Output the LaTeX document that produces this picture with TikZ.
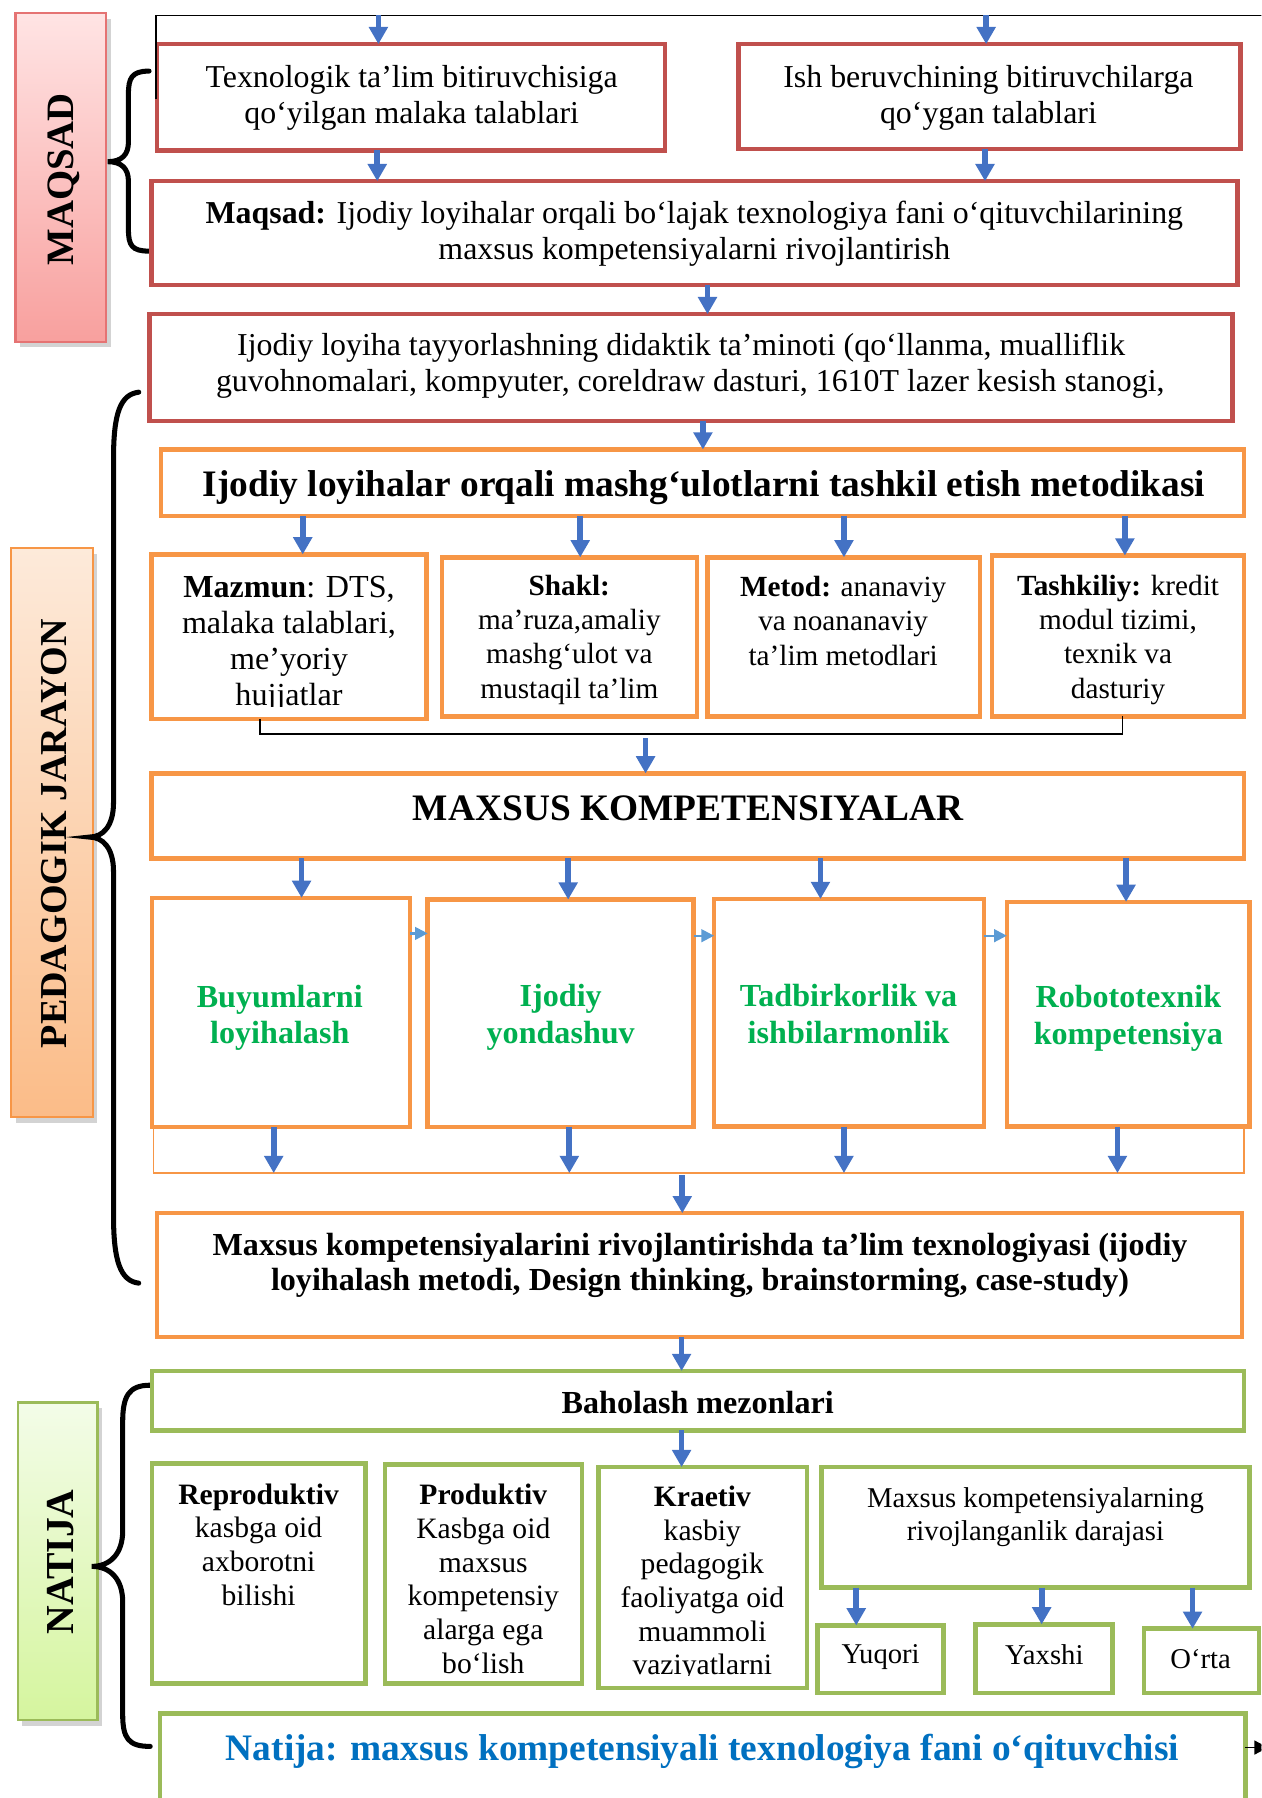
\documentclass[tikz,border=0pt]{standalone}
\usepackage{fontspec}
\setmainfont{Liberation Serif}
\usetikzlibrary{arrows.meta,fit,shadows}
\definecolor{cred}{HTML}{C0504D}
\definecolor{corange}{HTML}{F79646}
\definecolor{cgreen}{HTML}{9BBB59}
\definecolor{cblue}{HTML}{4472C4}
\definecolor{clblue}{HTML}{5B9BD5}
\definecolor{tgreen}{HTML}{00B050}
\definecolor{tblue}{HTML}{0070C0}
\definecolor{pinkA}{HTML}{FFE4E4}
\definecolor{pinkB}{HTML}{F8A09E}
\definecolor{pinkL}{HTML}{E57373}
\definecolor{peachA}{HTML}{FDEADA}
\definecolor{peachB}{HTML}{FBBC88}
\definecolor{limeA}{HTML}{F3FCE8}
\definecolor{limeB}{HTML}{D5F59E}
\begin{document}
\begin{tikzpicture}[x=0.5pt,y=-0.5pt,
  every node/.style={inner sep=0pt,outer sep=0pt},
  redbox/.style={draw=cred,line width=2pt,fill=white},
  orbox/.style={draw=corange,line width=2pt,fill=white},
  grbox/.style={draw=cgreen,line width=2pt,fill=white},
  labelbox/.style={line width=1pt,drop shadow={shadow xshift=2pt,shadow yshift=-2.5pt,opacity=0.35}},
  barrow/.style={draw=cblue,line width=2.5pt,-{Triangle[width=8pt,length=7.5pt]}},
  larrow/.style={draw=clblue,line width=1pt,-{Triangle[width=5.5pt,length=5.5pt]}},
  brace/.style={line width=2.2pt,line cap=round},
  thinline/.style={line width=0.75pt},
  tA/.style={font=\fontsize{13.9}{15.5}\selectfont,align=center},
  tM/.style={font=\fontsize{14}{15.6}\selectfont,align=center},
  tS/.style={font=\fontsize{12.75}{14.9}\selectfont,align=center},
  tR/.style={font=\fontsize{12.9}{14.7}\selectfont,align=center},
  tK/.style={font=\fontsize{12.5}{14.5}\selectfont,align=center},
  tH/.style={font=\bfseries\fontsize{16.3}{18}\selectfont,align=center},
  tG/.style={font=\bfseries\fontsize{14}{16}\selectfont,text=tgreen,align=center},
  tT/.style={font=\bfseries\fontsize{14}{15.6}\selectfont,align=center},
  lbl/.style={font=\bfseries\fontsize{16.9}{18}\selectfont,rotate=90,text depth=0pt}]
\useasboundingbox (0,0) rectangle (1100,1568);
\clip (0,0) rectangle (1100,1568);

% ---------- side labels ----------
\node[labelbox,top color=pinkA,bottom color=pinkB,draw=pinkL,fit={(13.6,11.6) (92.6,298)}] (L1) {};
\node[lbl] (L1t) at (52.6,156.3) {MAQSAD};
\node[labelbox,top color=peachA,bottom color=peachB,draw=corange,fit={(9.7,478) (81,974)}] (L2) {};
\node[lbl,font=\bfseries\fontsize{16.6}{18}\selectfont] (L2t) at (46.8,727) {PEDAGOGIK JARAYON};
\node[labelbox,top color=limeA,bottom color=limeB,draw=cgreen,fit={(15.6,1223) (85,1500)}] (L3) {};
\node[lbl,font=\bfseries\fontsize{17.3}{18}\selectfont] (L3t) at (53,1362) {NATIJA};

% ---------- braces ----------
\draw[brace] (130,62) .. controls (115,62) and (112,68) .. (112,82) -- (112,124)
  .. controls (112,135) and (106,141) .. (94,141) .. controls (106,141) and (112,147) .. (112,158)
  -- (112,200) .. controls (112,214) and (115,219) .. (130,219);
\draw[brace] (121,342) .. controls (105,344) and (99,360) .. (99,400) -- (99,700)
  .. controls (99,720) and (90,730) .. (78,730) .. controls (90,730) and (99,740) .. (99,760)
  -- (99,1060) .. controls (99,1100) and (105,1117) .. (121,1119);
\draw[brace] (131,1208) .. controls (112,1208) and (107,1218) .. (107,1240) -- (107,1335)
  .. controls (107,1355) and (96,1366) .. (80,1366) .. controls (96,1366) and (107,1377) .. (107,1397)
  -- (107,1495) .. controls (107,1516) and (112,1523) .. (131,1523);

% ---------- MAQSAD part ----------
\node[redbox,fit={(137,38.5) (580,131)}] (b1) {};
\node[tA] (t1) at (359,85.5) {Texnologik ta’lim bitiruvchisiga\\qo‘yilgan malaka talablari};
\node[redbox,fit={(644,38.5) (1082,130)}] (b2) {};
\node[tA] (t2) at (862,85.5) {Ish beruvchining bitiruvchilarga\\qo‘ygan talablari};
\node[redbox,fit={(132,158) (1079,248.5)}] (b3) {};
\node[tA] (t3) at (605.5,204) {\textbf{Maqsad:} Ijodiy loyihalar orqali bo‘lajak texnologiya fani o‘qituvchilarining\\maxsus kompetensiyalarni rivojlantirish};
\node[redbox,fit={(130.5,274) (1075,367)}] (b4) {};
\node[tA] (t4) at (602,319) {Ijodiy loyiha tayyorlashning didaktik ta’minoti (qo‘llanma, mualliflik\hspace*{8pt}\\guvohnomalari, kompyuter, coreldraw dasturi, 1610T lazer kesish stanogi,};

\coordinate (tl0) at (136,86);
\coordinate (tl1) at (136,13.5);
\coordinate (tl2) at (1110,13.5);
\draw[thinline] (tl0) -- (tl1) -- (tl2);

% ---------- PEDAGOGIK part ----------
\node[orbox,fit={(140.5,392) (1085,450)}] (b5) {};
\node[tH] (t5) at (614,425) {Ijodiy loyihalar orqali mashg‘ulotlarni tashkil etish metodikasi};

\node[orbox,fit={(132,483.5) (372,627)}] (m1) {};
\begin{scope}
\clip (132,480) rectangle (372,616.5);
\node[tM] (tm1) at (252,562) {\textbf{Mazmun}: DTS,\\malaka talablari,\\me’yoriy\\hujjatlar};
\end{scope}
\node[orbox,fit={(385.5,486) (608,624.6)}] (m2) {};
\node[tS] (tm2) at (496.5,558) {\textbf{Shakl:}\\ma’ruza,amaliy\\mashg‘ulot va\\mustaqil ta’lim};
\node[orbox,fit={(617,486) (854.5,624.6)}] (m3) {};
\node[tS] (tm3) at (735.3,541.5) {\textbf{Metod:} ananaviy\\va noananaviy\\ta’lim metodlari};
\node[orbox,fit={(865,484.5) (1085,624.6)}] (m4) {};
\node[tS] (tm4) at (975,558) {\textbf{Tashkiliy:} kredit\\modul tizimi,\\texnik va\\dasturiy};

\coordinate (k1) at (227,640);
\coordinate (k2) at (979,640);
\coordinate (k3) at (563,644);
\draw[thinline] (m1.south -| k1) -- (k1) -- (k2) -- (m4.south -| k2);

\node[orbox,fit={(132,674.5) (1085,748.5)}] (mk) {};
\node[tH,text depth=0pt] (tmk) at (600,705) {MAXSUS KOMPETENSIYALAR};

\node[orbox,fit={(132.4,783) (357.5,982.8)}] (c1) {};
\node[tG] (tc1) at (244,887.5) {Buyumlarni\\loyihalash};
\node[orbox,fit={(373,784.5) (605,982.8)}] (c2) {};
\node[tG] (tc2) at (489,887) {Ijodiy\\yondashuv};
\node[orbox,fit={(622.7,784) (858,982.5)}] (c3) {};
\node[tG] (tc3) at (740,884) {Tadbirkorlik va\\ishbilarmonlik};
\node[orbox,fit={(878,786.5) (1089.7,982.5)}] (c4) {};
\node[tG] (tc4) at (984,888) {Robototexnik\\kompetensiya};

\coordinate (f1) at (134,1023);
\coordinate (f2) at (1085,1023);
\coordinate (f3) at (595,1025);
\draw[corange,line width=0.6pt] (c1.south -| f1) -- (f1) -- (f2) -- (c4.south -| f2);

\node[orbox,fit={(137,1058) (1083,1166)}] (T) {};
\node[tT] (tT) at (610.5,1103.5) {Maxsus kompetensiyalarini rivojlantirishda ta’lim texnologiyasi (ijodiy\\loyihalash metodi, Design thinking, brainstorming, case-study)};

% ---------- NATIJA part ----------
\node[grbox,fit={(132.4,1195.6) (1085,1247.4)}] (Bh) {};
\node[tT] (tBh) at (608.5,1223) {Baholash mezonlari};
\node[grbox,fit={(132.4,1276.4) (318.5,1468)}] (r1) {};
\node[tR] (tr1) at (225.5,1347) {\textbf{Reproduktiv}\\kasbga oid\\axborotni\\bilishi};
\node[grbox,fit={(335.7,1277.3) (507.4,1468)}] (r2) {};
\node[tR] (tr2) at (421.5,1376.8) {\textbf{Produktiv}\\Kasbga oid\\maxsus\\kompetensiy\\alarga ega\\bo‘lish};
\node[grbox,fit={(521.8,1279.4) (703.6,1472)}] (r3) {};
\begin{scope}
\clip (521.8,1279) rectangle (703.6,1461);
\node[tR] (tr3) at (612.5,1381) {\textbf{Kraetiv}\\kasbiy\\pedagogik\\faoliyatga oid\\muammoli\\vaziyatlarni};
\end{scope}
\node[grbox,fit={(716.4,1279.4) (1089.6,1384.6)}] (r4) {};
\node[tK] (tr4) at (903,1323) {Maxsus kompetensiyalarning\\rivojlanganlik darajasi};
\node[grbox,fit={(712.7,1417.5) (823,1476.5)}] (y1) {};
\node[tK] (ty1) at (768,1445) {Yuqori};
\node[grbox,fit={(850.7,1416.6) (970,1476.5)}] (y2) {};
\node[tK] (ty2) at (910.7,1443) {Yaxshi};
\node[grbox,fit={(997.7,1420.4) (1097.8,1476.5)}] (y3) {};
\node[tK] (ty3) at (1047,1446.5) {O‘rta};
\node[grbox,fit={(139.4,1494.5) (1086,1600)}] (n) {};
\node[tH,text=tblue] (tn) at (612.7,1527.5) {Natija: maxsus kompetensiyali texnologiya fani o‘qituvchisi};
\coordinate (nx) at (1106,1524);
\draw[thinline,-{Triangle[width=6pt,length=6pt]}] (n.east |- nx) -- (nx);

% ---------- blue arrows ----------
\draw[barrow] (tl1 -| 330,0) -- (b1.north -| 330,0);
\draw[barrow] (tl1 -| 860,0) -- (b2.north -| 860,0);
\draw[barrow] (b1.south -| 329,0) -- (b3.north -| 329,0);
\draw[barrow] (b2.south -| 859,0) -- (b3.north -| 859,0);
\draw[barrow] (b3.south -| 617,0) -- (b4.north -| 617,0);
\draw[barrow] (b4.south -| 613,0) -- (b5.north -| 613,0);
\draw[barrow] (b5.south -| 264,0) -- (m1.north -| 264,0);
\draw[barrow] (b5.south -| 506,0) -- (m2.north -| 506,0);
\draw[barrow] (b5.south -| 736,0) -- (m3.north -| 736,0);
\draw[barrow] (b5.south -| 981,0) -- (m4.north -| 981,0);
\draw[barrow] (k3) -- (mk.north -| k3);
\draw[barrow] (mk.south -| 263,0) -- (c1.north -| 263,0);
\draw[barrow] (mk.south -| 495.5,0) -- (c2.north -| 495.5,0);
\draw[barrow] (mk.south -| 715.5,0) -- (c3.north -| 715.5,0);
\draw[barrow] (mk.south -| 982,0) -- (c4.north -| 982,0);
\draw[barrow] (c1.south -| 238.7,0) -- (f1 -| 238.7,0);
\draw[barrow] (c2.south -| 496.5,0) -- (f1 -| 496.5,0);
\draw[barrow] (c3.south -| 736,0) -- (f1 -| 736,0);
\draw[barrow] (c4.south -| 974.5,0) -- (f1 -| 974.5,0);
\draw[barrow] (f3) -- (T.north -| f3);
\draw[barrow] (T.south -| 594.4,0) -- (Bh.north -| 594.4,0);
\draw[barrow] (Bh.south -| 594.4,0) -- (r3.north -| 594.4,0);
\draw[barrow] (r4.south -| 746.7,0) -- (y1.north -| 746.7,0);
\draw[barrow] (r4.south -| 908.4,0) -- (y2.north -| 908.4,0);
\draw[barrow] (r4.south -| 1040,0) -- (y3.north -| 1040,0);

% ---------- light arrows between competencies ----------
\draw[larrow] (c1.east |- 0,814) -- (c2.west |- 0,814);
\draw[larrow] (c2.east |- 0,816) -- (c3.west |- 0,816);
\draw[larrow] (c3.east |- 0,816) -- (c4.west |- 0,816);
\end{tikzpicture}
\end{document}
